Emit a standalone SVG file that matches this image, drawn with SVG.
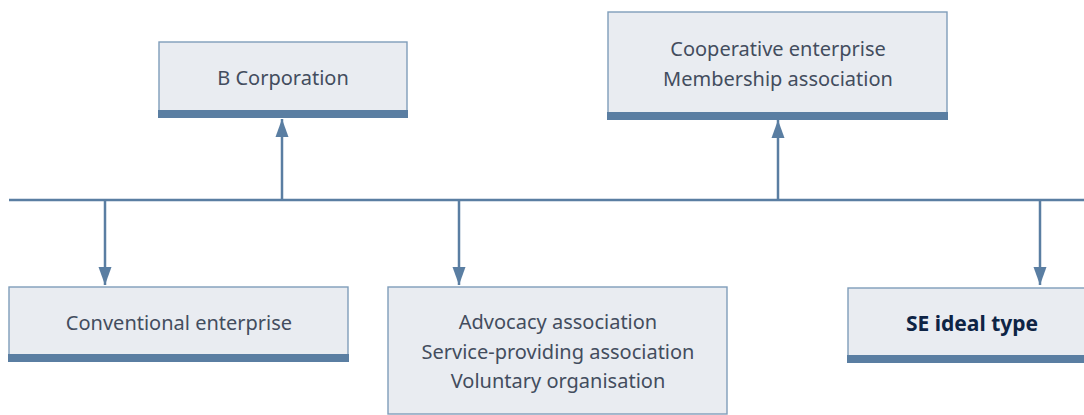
<svg xmlns="http://www.w3.org/2000/svg" width="1084" height="415" viewBox="0 0 1084 415">
<style>
.box{fill:#e9ecf1;stroke:#7f9dba;stroke-width:1.4}
.bar{fill:#5a7ea2}
.conn{stroke:#5a7ea2;stroke-width:2.5;fill:none}
.t{font-family:"Noto Sans","Liberation Sans",sans-serif;font-size:20px;fill:#434d5e;text-anchor:middle}
.b{font-weight:bold;fill:#0e2445;font-size:21px}
</style>
<defs>
<marker id="ah" markerUnits="userSpaceOnUse" markerWidth="18" markerHeight="14" refX="18" refY="7" orient="auto">
<path d="M0,0.5 L18,7 L0,13.5 z" fill="#5a7ea2"/>
</marker>
</defs>
<rect width="1084" height="415" fill="#ffffff"/>
<g id="connectors">
<line class="conn" x1="9" y1="200" x2="1084" y2="200"/>
<line class="conn" x1="282" y1="200" x2="282" y2="119" marker-end="url(#ah)"/>
<line class="conn" x1="778" y1="200" x2="778" y2="120" marker-end="url(#ah)"/>
<line class="conn" x1="105" y1="200" x2="105" y2="285" marker-end="url(#ah)"/>
<line class="conn" x1="459" y1="200" x2="459" y2="285" marker-end="url(#ah)"/>
<line class="conn" x1="1040" y1="200" x2="1040" y2="285" marker-end="url(#ah)"/>
</g>
<g id="b-corporation">
<rect class="box" x="159" y="42" width="248" height="70"/>
<rect class="bar" x="158" y="110" width="250" height="8"/>
<text class="t" x="283" y="85">B Corporation</text>
</g>
<g id="cooperative">
<rect class="box" x="608" y="12" width="339" height="102"/>
<rect class="bar" x="607" y="112" width="341" height="8"/>
<text class="t" x="778" y="56">Cooperative enterprise</text>
<text class="t" x="778" y="86">Membership association</text>
</g>
<g id="conventional">
<rect class="box" x="9" y="287" width="339" height="69"/>
<rect class="bar" x="8" y="354" width="341" height="8"/>
<text class="t" x="179" y="330">Conventional enterprise</text>
</g>
<g id="advocacy">
<rect class="box" x="388" y="287" width="339" height="127"/>
<text class="t" x="558" y="329">Advocacy association</text>
<text class="t" x="558" y="359">Service-providing association</text>
<text class="t" x="558" y="388">Voluntary organisation</text>
</g>
<g id="se-ideal-type">
<rect class="box" x="848" y="288" width="250" height="69"/>
<rect class="bar" x="847" y="355" width="252" height="8"/>
<text class="t b" x="972" y="331">SE ideal type</text>
</g>
</svg>
